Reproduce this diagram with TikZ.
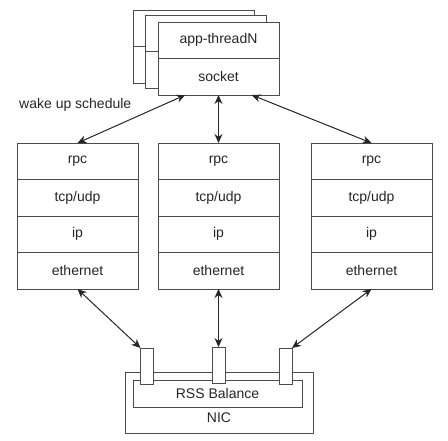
\documentclass[tikz,border=0pt]{standalone}
\usepackage{fontspec}
\setmainfont{Liberation Sans}
\usetikzlibrary{arrows.meta,positioning,calc}

\begin{document}
\begin{tikzpicture}[x=1pt,y=-1pt,>={Stealth[length=9pt,width=8pt]},font=\fontsize{14}{16}\selectfont]
    \tikzstyle{layer}=[rectangle,draw=black!70,line width=1pt,fill=white,minimum width=121pt,minimum height=36.5pt,outer sep=0pt,inner sep=0pt,text=black!85]
    \tikzstyle{queue}=[rectangle,draw=black!70,line width=1pt,fill=white,minimum width=13pt,minimum height=36pt,outer sep=0pt,inner sep=0pt]
    \tikzstyle{link}=[<->,line width=1pt,draw=black!85]
    \useasboundingbox (0,0) rectangle (448,440);
    % stacked app threads
    \node[layer](appA) at (194,28.25){};
    \node[layer,below=0pt of appA](sockA){};
    \node[layer](appB) at (206,33.25){};
    \node[layer,below=0pt of appB](sockB){};
    \node[layer](appC) at (218.5,40.25){app-threadN};
    \node[layer,below=0pt of appC](sockC){socket};
    \node[anchor=west,inner sep=0pt,text=black!85](wake) at (19,105){wake up schedule};
    % protocol stacks
    \node[layer](rpcA) at (77.5,161.25){rpc};
    \node[layer,below=0pt of rpcA](tcpA){tcp/udp};
    \node[layer,below=0pt of tcpA](ipA){ip};
    \node[layer,below=0pt of ipA](ethA){ethernet};
    \node[layer](rpcB) at (218.5,161.25){rpc};
    \node[layer,below=0pt of rpcB](tcpB){tcp/udp};
    \node[layer,below=0pt of tcpB](ipB){ip};
    \node[layer,below=0pt of ipB](ethB){ethernet};
    \node[layer](rpcC) at (371.5,161.25){rpc};
    \node[layer,below=0pt of rpcC](tcpC){tcp/udp};
    \node[layer,below=0pt of tcpC](ipC){ip};
    \node[layer,below=0pt of ipC](ethC){ethernet};
    % nic
    \node[layer,minimum width=188pt,minimum height=61pt,label={[anchor=south,inner sep=0pt,yshift=10pt,text=black!85]south:NIC}](nic) at (219,402.5){};
    \node[layer,minimum width=169pt,minimum height=27pt](rss) at (217.5,393.5){RSS Balance};
    \node[queue](q1) at (147,366){};
    \node[queue](q2) at (218.5,365){};
    \node[queue](q3) at (285.5,366){};
    % links
    \draw[link] (rpcA.north) -- ($(sockC.south)!0.55!(sockC.south west)$);
    \draw[link] (rpcB.north) -- (sockC.south);
    \draw[link] (rpcC.north) -- ($(sockC.south)!0.55!(sockC.south east)$);
    \draw[link] (ethA.south) -- (q1.north west);
    \draw[link] (ethB.south) -- (q2.north);
    \draw[link] (ethC.south) -- (q3.north east);
\end{tikzpicture}
\end{document}
